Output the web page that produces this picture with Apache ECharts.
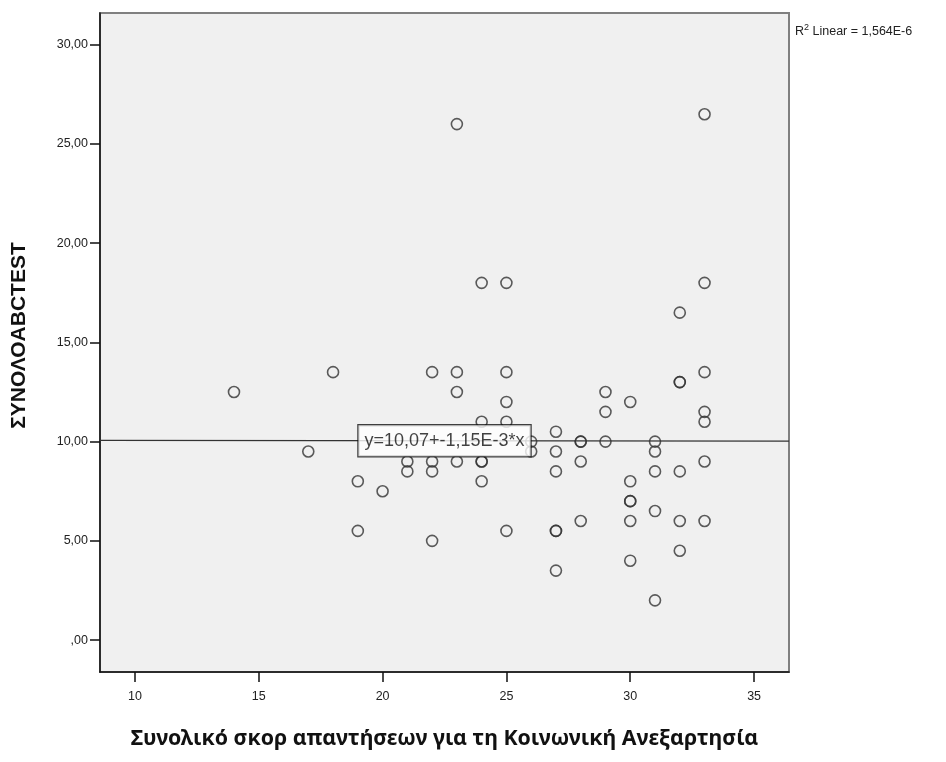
<!DOCTYPE html>
<html>
<head>
<meta charset="utf-8">
<script src="https://cdn.jsdelivr.net/npm/echarts@6/dist/echarts.min.js"></script>
<style>html,body{margin:0;padding:0;background:#fff}#c{width:946px;height:762px}</style>
</head>
<body>
<div id="c"></div>
<script>
// ---- data ----
var xValues = [14,17,18,19,19,20,21,21,22,22,22,22,23,23,23,23,24,24,24,24,24,25,25,25,25,25,26,26,27,27,27,27,27,27,28,28,28,28,29,29,29,30,30,30,30,30,30,31,31,31,31,31,32,32,32,32,32,32,33,33,33,33,33,33,33];
var yValues = [12.5,9.5,13.5,8,5.5,7.5,9,8.5,13.5,9,8.5,5,26,13.5,12.5,9,18,11,9,9,8,18,13.5,12,11,5.5,10,9.5,10.5,9.5,8.5,5.5,5.5,3.5,10,10,9,6,12.5,11.5,10,12,8,7,7,6,4,10,9.5,8.5,6.5,2,16.5,13,13,8.5,6,4.5,26.5,18,13.5,11.5,11,9,6];
var xTicks = [10,15,20,25,30,35];
var yTicks = [0,5,10,15,20,25,30];
var yTickLabels = [',00','5,00','10,00','15,00','20,00','25,00','30,00'];
var fitIntercept = 10.07;
var fitSlope = -0.00115;
var fitLabel = 'y=10,07+-1,15E-3*x';
var r2Label = 'Linear = 1,564E-6';
var xTitle = 'Συνολικό σκορ απαντήσεων για τη Κοινωνική Ανεξαρτησία';
var yTitle = 'ΣΥΝΟΛΟABCTEST';

var xMin = 8.59, xMax = 36.41, yMin = -1.61, yMax = 31.6;

var points = xValues.map(function(x, i){ return [x, yValues[i]]; });
var fitLine = [[xMin, fitIntercept + fitSlope * xMin], [xMax, fitIntercept + fitSlope * xMax]];

var chart = echarts.init(document.getElementById('c'), null, {renderer: 'canvas'});
var axisFont = 'Liberation Sans, Arial, sans-serif';
chart.setOption({
  animation: false,
  backgroundColor: '#ffffff',
  title: {
    text: '{r|R}{s|2}{r| ' + r2Label + '}',
    left: 790, top: 18,
    textStyle: {
      fontWeight: 'normal',
      rich: {
        r: {fontFamily: axisFont, fontSize: 12.5, fontWeight: 'normal', color: '#222', verticalAlign: 'bottom'},
        s: {fontFamily: axisFont, fontSize: 9, fontWeight: 'normal', color: '#222', verticalAlign: 'top', padding: [0,0,6,0]}
      }
    }
  },
  grid: {
    left: 100, right: 157, top: 13, bottom: 90,
    show: true, backgroundColor: '#f0f0f0', borderColor: '#808080', borderWidth: 2
  },
  xAxis: {
    type: 'value', min: xMin, max: xMax,
    name: xTitle, nameLocation: 'middle', nameGap: 56,
    nameTextStyle: {fontFamily: '"Noto Sans", "Open Sans", sans-serif', fontWeight: 'bold', fontSize: 21.3, color: '#111'},
    axisLine: {show: true, onZero: false, lineStyle: {color: '#111', width: 1.5}},
    axisTick: {show: true, length: 10, customValues: xTicks, lineStyle: {color: '#111', width: 1.5}},
    axisLabel: {customValues: xTicks, fontFamily: axisFont, fontSize: 12.5, color: '#222', margin: 18},
    splitLine: {show: false}
  },
  yAxis: {
    type: 'value', min: yMin, max: yMax,
    name: yTitle, nameLocation: 'middle', nameGap: 70, nameRotate: 90,
    nameTextStyle: {fontFamily: axisFont, fontWeight: 'bold', fontSize: 21, color: '#111', padding: [0, 0, 0, 14]},
    axisLine: {show: true, onZero: false, lineStyle: {color: '#111', width: 1.5}},
    axisTick: {show: true, length: 10, customValues: yTicks, lineStyle: {color: '#111', width: 1.5}},
    axisLabel: {
      customValues: yTicks, fontFamily: axisFont, fontSize: 12.5, color: '#222', margin: 12,
      formatter: function(v){ var i = yTicks.indexOf(Math.round(v)); return i >= 0 ? yTickLabels[i] : ''; }
    },
    splitLine: {show: false}
  },
  series: [
    {
      type: 'scatter', data: points, symbol: 'circle', symbolSize: 11,
      itemStyle: {color: 'rgba(0,0,0,0)', borderColor: '#333', borderWidth: 1.6},
      z: 2
    },
    {
      type: 'line', data: fitLine, symbol: 'none',
      lineStyle: {color: '#333', width: 1.2}, z: 3
    },
    {
      type: 'scatter', data: [[22.5, fitIntercept + fitSlope * 22.5]], symbolSize: 0, z: 5, zlevel: 1,
      label: {
        show: true, position: 'inside', formatter: fitLabel,
        fontFamily: axisFont, fontSize: 18, color: '#111',
        backgroundColor: '#ffffff', borderColor: '#111', borderWidth: 1.2,
        padding: [7, 6, 6, 6]
      }
    }
  ]
});
</script>
</body>
</html>
